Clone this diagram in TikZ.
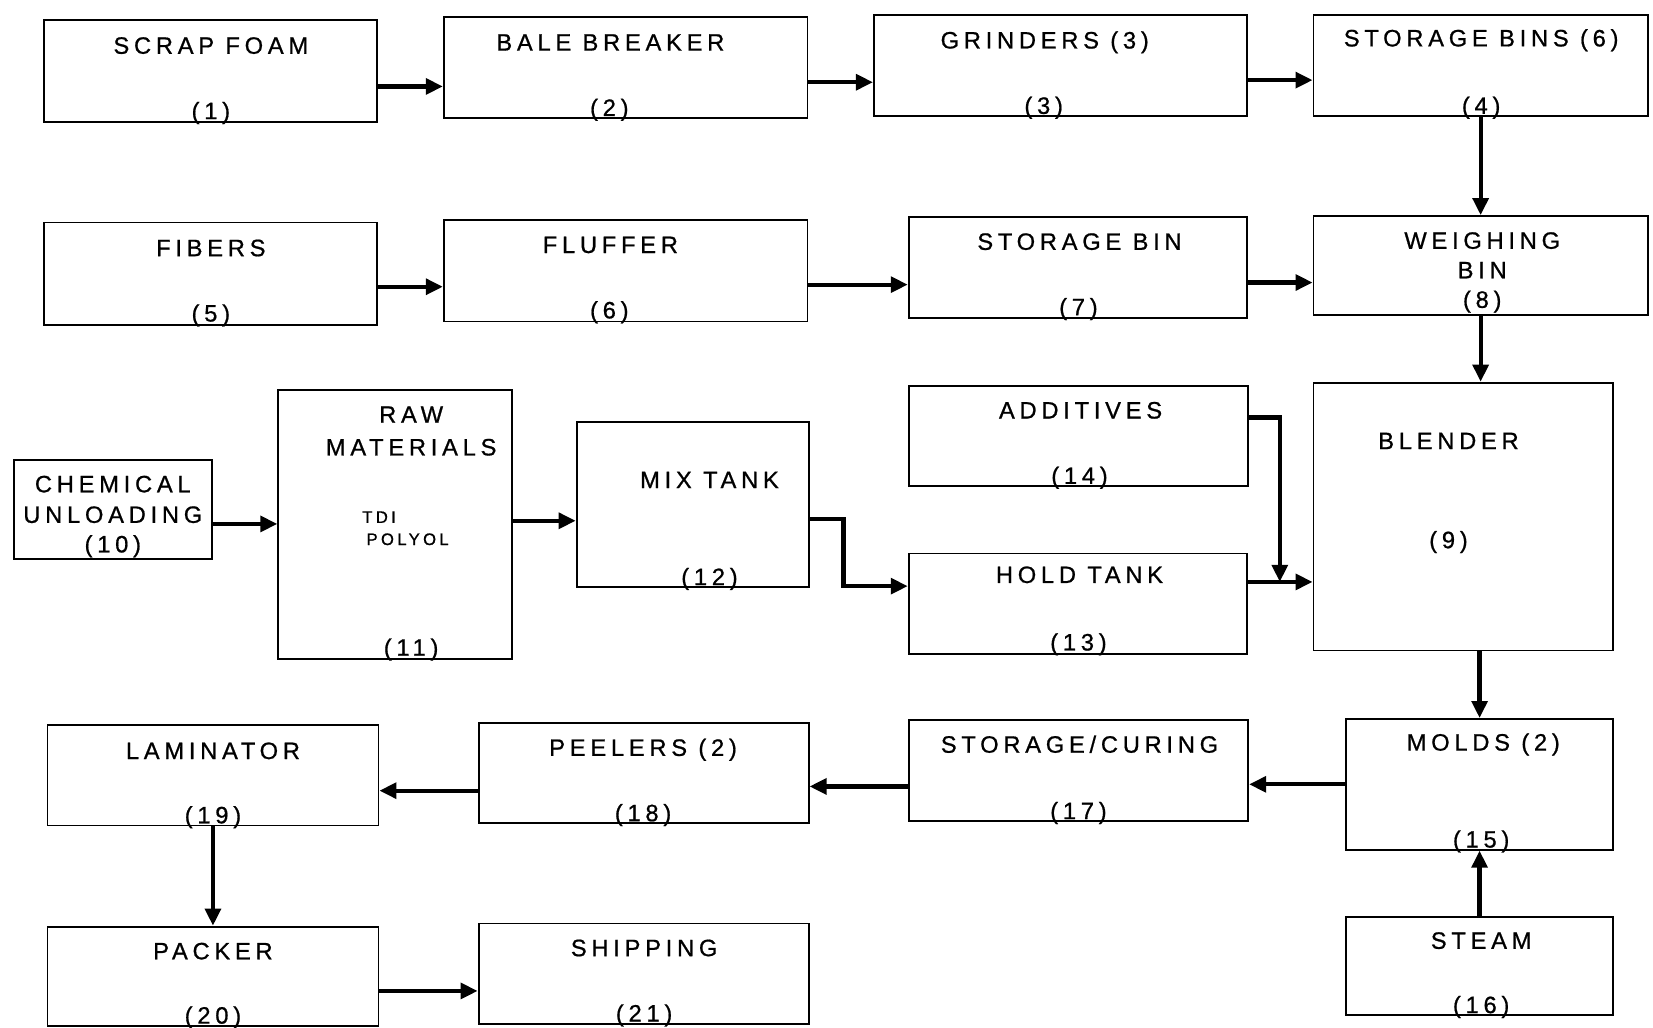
\documentclass[tikz,border=0pt]{standalone}
\usepackage{fontspec}
\setmainfont{Liberation Sans}
\newfontfamily\lsfont[LetterSpace=20,FakeBold=0.8]{Liberation Sans}
\usetikzlibrary{arrows.meta,fit,calc}
\begin{document}
\begin{tikzpicture}[x=0.1mm,y=-0.1mm,
  box/.style={draw,line width=0.5pt,inner sep=0pt},
  lbl/.style={anchor=base,inner sep=0pt,font=\lsfont\fontsize{6.4pt}{7pt}\selectfont},
  small/.style={anchor=base west,inner sep=0pt,font=\lsfont\fontsize{4.5pt}{5pt}\selectfont},
  arr/.style={line width=1.15pt,-{Triangle[length=4.6pt,width=4.2pt]}},
  ln/.style={line width=1.15pt}]
\useasboundingbox (0,0) rectangle (1568,975);
% ---------- boxes ----------
\node[box,fit={(42,19) (358,116)}] (n1) {};
\node[box,fit={(421,16) (766,112)}] (n2) {};
\node[box,fit={(829,14) (1183,110)}] (n3) {};
\node[box,fit={(1246,14) (1563,110)}] (n4) {};
\node[box,fit={(42,211) (358,308)}] (n5) {};
\node[box,fit={(421,209) (766,305)}] (n6) {};
\node[box,fit={(862,206) (1183,302)}] (n7) {};
\node[box,fit={(1246,205) (1563,299)}] (n8) {};
\node[box,fit={(13,436) (201,530)}] (n10) {};
\node[box,fit={(264,370) (486,625)}] (n11) {};
\node[box,fit={(547,400) (767,557)}] (n12) {};
\node[box,fit={(862,366) (1184,461)}] (n14) {};
\node[box,fit={(862,525) (1183,620)}] (n13) {};
\node[box,fit={(1246,363) (1530,617)}] (n9) {};
\node[box,fit={(1277,682) (1530,806)}] (n15) {};
\node[box,fit={(862,683) (1184,779)}] (n17) {};
\node[box,fit={(454,686) (767,781)}] (n18) {};
\node[box,fit={(45,688) (359,783)}] (n19) {};
\node[box,fit={(1277,870) (1530,963)}] (n16) {};
\node[box,fit={(45,879) (359,973)}] (n20) {};
\node[box,fit={(454,876) (767,971)}] (n21) {};
% ---------- labels ----------
\node[lbl] (t1) at (200,51) {SCRAP FOAM};
\node[lbl] (c1) at (200,113) {(1)};
\node[lbl] (t2) at (579,48) {BALE BREAKER};
\node[lbl] (c2) at (578,110) {(2)};
\node[lbl] (t3) at (991,46) {GRINDERS (3)};
\node[lbl] (c3) at (990,108) {(3)};
\node[lbl] (t4) at (1405,44) {STORAGE BINS (6)};
\node[lbl] (c4) at (1405,108) {(4)};
\node[lbl] (t5) at (200,243) {FIBERS};
\node[lbl] (c5) at (200,305) {(5)};
\node[lbl] (t6) at (579,240) {FLUFFER};
\node[lbl] (c6) at (578,302) {(6)};
\node[lbl] (t7) at (1024,237) {STORAGE BIN};
\node[lbl] (c7) at (1023,299) {(7)};
\node[lbl] (t8a) at (1406,236) {WEIGHING};
\node[lbl] (t8b) at (1406,264) {BIN};
\node[lbl] (c8) at (1406,292) {(8)};
\node[lbl] (t10a) at (107,467) {CHEMICAL};
\node[lbl] (t10b) at (107,496) {UNLOADING};
\node[lbl] (c10) at (107,524) {(10)};
\node[lbl] (t11a) at (390,401) {RAW};
\node[lbl] (t11b) at (390,432) {MATERIALS};
\node[small] (t11c) at (343,496) {TDI};
\node[small] (t11d) at (347,517) {POLYOL};
\node[lbl] (c11) at (390,622) {(11)};
\node[lbl] (t12) at (673,463) {MIX TANK};
\node[lbl] (c12) at (673,555) {(12)};
\node[lbl] (t14) at (1025,397) {ADDITIVES};
\node[lbl] (c14) at (1024,459) {(14)};
\node[lbl] (t13) at (1024,553) {HOLD TANK};
\node[lbl] (c13) at (1023,617) {(13)};
\node[lbl] (t9) at (1374,426) {BLENDER};
\node[lbl] (c9) at (1374,520) {(9)};
\node[lbl] (t15) at (1407,712) {MOLDS (2)};
\node[lbl] (c15) at (1405,804) {(15)};
\node[lbl] (t17) at (1024,714) {STORAGE/CURING};
\node[lbl] (c17) at (1023,777) {(17)};
\node[lbl] (t18) at (610,717) {PEELERS (2)};
\node[lbl] (c18) at (610,779) {(18)};
\node[lbl] (t19) at (202,720) {LAMINATOR};
\node[lbl] (c19) at (202,781) {(19)};
\node[lbl] (t16) at (1405,900) {STEAM};
\node[lbl] (c16) at (1405,961) {(16)};
\node[lbl] (t20) at (202,910) {PACKER};
\node[lbl] (c20) at (202,971) {(20)};
\node[lbl] (t21) at (611,907) {SHIPPING};
\node[lbl] (c21) at (611,969) {(21)};
% ---------- level coordinates ----------
\coordinate (y82) at (0,82);
\coordinate (y78) at (0,78);
\coordinate (y76) at (0,76);
\coordinate (y272) at (0,272);
\coordinate (y270) at (0,270);
\coordinate (y268) at (0,268);
\coordinate (y497) at (0,497);
\coordinate (y494) at (0,494);
\coordinate (y492) at (0,492);
\coordinate (bend12) at (800,556);
\coordinate (y396) at (0,396);
\coordinate (junc) at (1214,552);
\coordinate (y744) at (0,744);
\coordinate (y746) at (0,746);
\coordinate (y750) at (0,750);
\coordinate (y940) at (0,940);
% ---------- connectors ----------
\draw[arr] (n1.east |- y82) -- (n2.west |- y82);
\draw[arr] (n2.east |- y78) -- (n3.west |- y78);
\draw[arr] (n3.east |- y76) -- (n4.west |- y76);
\draw[arr] (n4.south) -- (n8.north);
\draw[arr] (n5.east |- y272) -- (n6.west |- y272);
\draw[arr] (n6.east |- y270) -- (n7.west |- y270);
\draw[arr] (n7.east |- y268) -- (n8.west |- y268);
\draw[arr] (n8.south) -- (n8.south |- n9.north);
\draw[arr] (n10.east |- y497) -- (n11.west |- y497);
\draw[arr] (n11.east |- y494) -- (n12.west |- y494);
\draw[arr] (n12.east |- y492) -| (bend12) -- (n13.west |- bend12);
\draw[arr] (n14.east |- y396) -| (junc);
\draw[arr] (n13.east |- junc) -- (n9.west |- junc);
\draw[arr] (n15.north |- n9.south) -- (n15.north);
\draw[arr] (n15.west |- y744) -- (n17.east |- y744);
\draw[arr] (n17.west |- y746) -- (n18.east |- y746);
\draw[arr] (n18.west |- y750) -- (n19.east |- y750);
\draw[arr] (n16.north) -- (n15.south);
\draw[arr] (n19.south) -- (n20.north);
\draw[arr] (n20.east |- y940) -- (n21.west |- y940);
\end{tikzpicture}
\end{document}
